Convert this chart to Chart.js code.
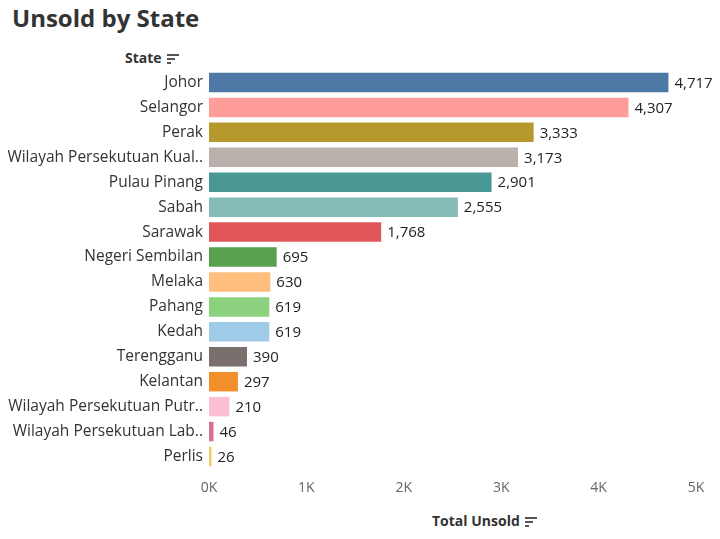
<!DOCTYPE html>
<html>
<head>
<meta charset="utf-8">
<script src="https://cdn.jsdelivr.net/npm/chart.js@4"></script>
<style>
  body { margin: 0; background: #fff; font-family: "Open Sans", Lato, sans-serif; }
  #wrap { position: relative; width: 720px; height: 539px; }
  #title { position: absolute; left: 12px; top: 1px; font-size: 24px; font-weight: bold; color: #333; }
  .hdr { position: absolute; font-size: 14px; font-weight: bold; color: #333; }
  .sort { display: inline-block; vertical-align: middle; margin-left: 5px; }
  .sort i { display: block; height: 2px; background: #555; margin: 2px 0; }
  canvas { position: absolute; left: 0; top: 0; }
</style>
</head>
<body>
<div id="wrap">
  <div id="title">Unsold by State</div>
  <div class="hdr" style="left:125px;top:48px;">State<span class="sort"><i style="width:12px"></i><i style="width:8px"></i><i style="width:4px"></i></span></div>
  <div class="hdr" style="left:432px;top:511px;">Total Unsold<span class="sort"><i style="width:12px"></i><i style="width:8px"></i><i style="width:4px"></i></span></div>
  <canvas id="c" width="720" height="539"></canvas>
</div>
<script>
const states = ['Johor', 'Selangor', 'Perak', 'Wilayah Persekutuan Kual..', 'Pulau Pinang', 'Sabah', 'Sarawak',
  'Negeri Sembilan', 'Melaka', 'Pahang', 'Kedah', 'Terengganu', 'Kelantan',
  'Wilayah Persekutuan Putr..', 'Wilayah Persekutuan Lab..', 'Perlis'];
const unsold = [4717, 4307, 3333, 3173, 2901, 2555, 1768, 695, 630, 619, 619, 390, 297, 210, 46, 26];
const barColors = ['#4e79a7', '#ff9d9a', '#b6992d', '#bab0ac', '#499894', '#86bcb6', '#e15759',
  '#59a14f', '#ffbe7d', '#8cd17d', '#a0cbe8', '#79706e', '#f28e2b', '#fabfd2', '#d37295', '#f1ce63'];

const FONT = '"Open Sans", Lato, sans-serif';

// Value labels at the end of each bar
const valueLabels = {
    id: 'valueLabels',
    afterDatasetsDraw(chart) {
        const ctx = chart.ctx;
        const meta = chart.getDatasetMeta(0);
        ctx.save();
        ctx.font = '15px ' + FONT;
        ctx.fillStyle = '#222';
        ctx.textBaseline = 'middle';
        meta.data.forEach((bar, i) => {
            ctx.fillText(unsold[i].toLocaleString('en-US'), bar.x + 6, bar.y + 1);
        });
        ctx.restore();
    }
};

new Chart(document.getElementById('c'), {
    type: 'bar',
    data: {
        labels: states,
        datasets: [{
            data: unsold,
            backgroundColor: barColors,
            borderWidth: 0,
            categoryPercentage: 1,
            barPercentage: 0.78
        }]
    },
    options: {
        indexAxis: 'y',
        responsive: false,
        animation: false,
        layout: { padding: { top: 70, right: 24 } },
        plugins: { legend: { display: false }, tooltip: { enabled: false } },
        scales: {
            x: {
                min: 0, max: 5000,
                grid: { display: false, drawTicks: false },
                border: { display: false },
                ticks: {
                    stepSize: 1000, padding: 11, color: '#666',
                    font: { size: 14, family: FONT },
                    callback: v => (v / 1000) + 'K'
                },
                afterFit: s => { s.height = 70; }
            },
            y: {
                grid: { display: false, drawTicks: false },
                border: { display: false },
                ticks: {
                    padding: 6, color: '#333',
                    font: { size: 15.5, family: FONT }
                },
                afterFit: s => { s.width = 209; }
            }
        }
    },
    plugins: [valueLabels]
});
</script>
</body>
</html>
